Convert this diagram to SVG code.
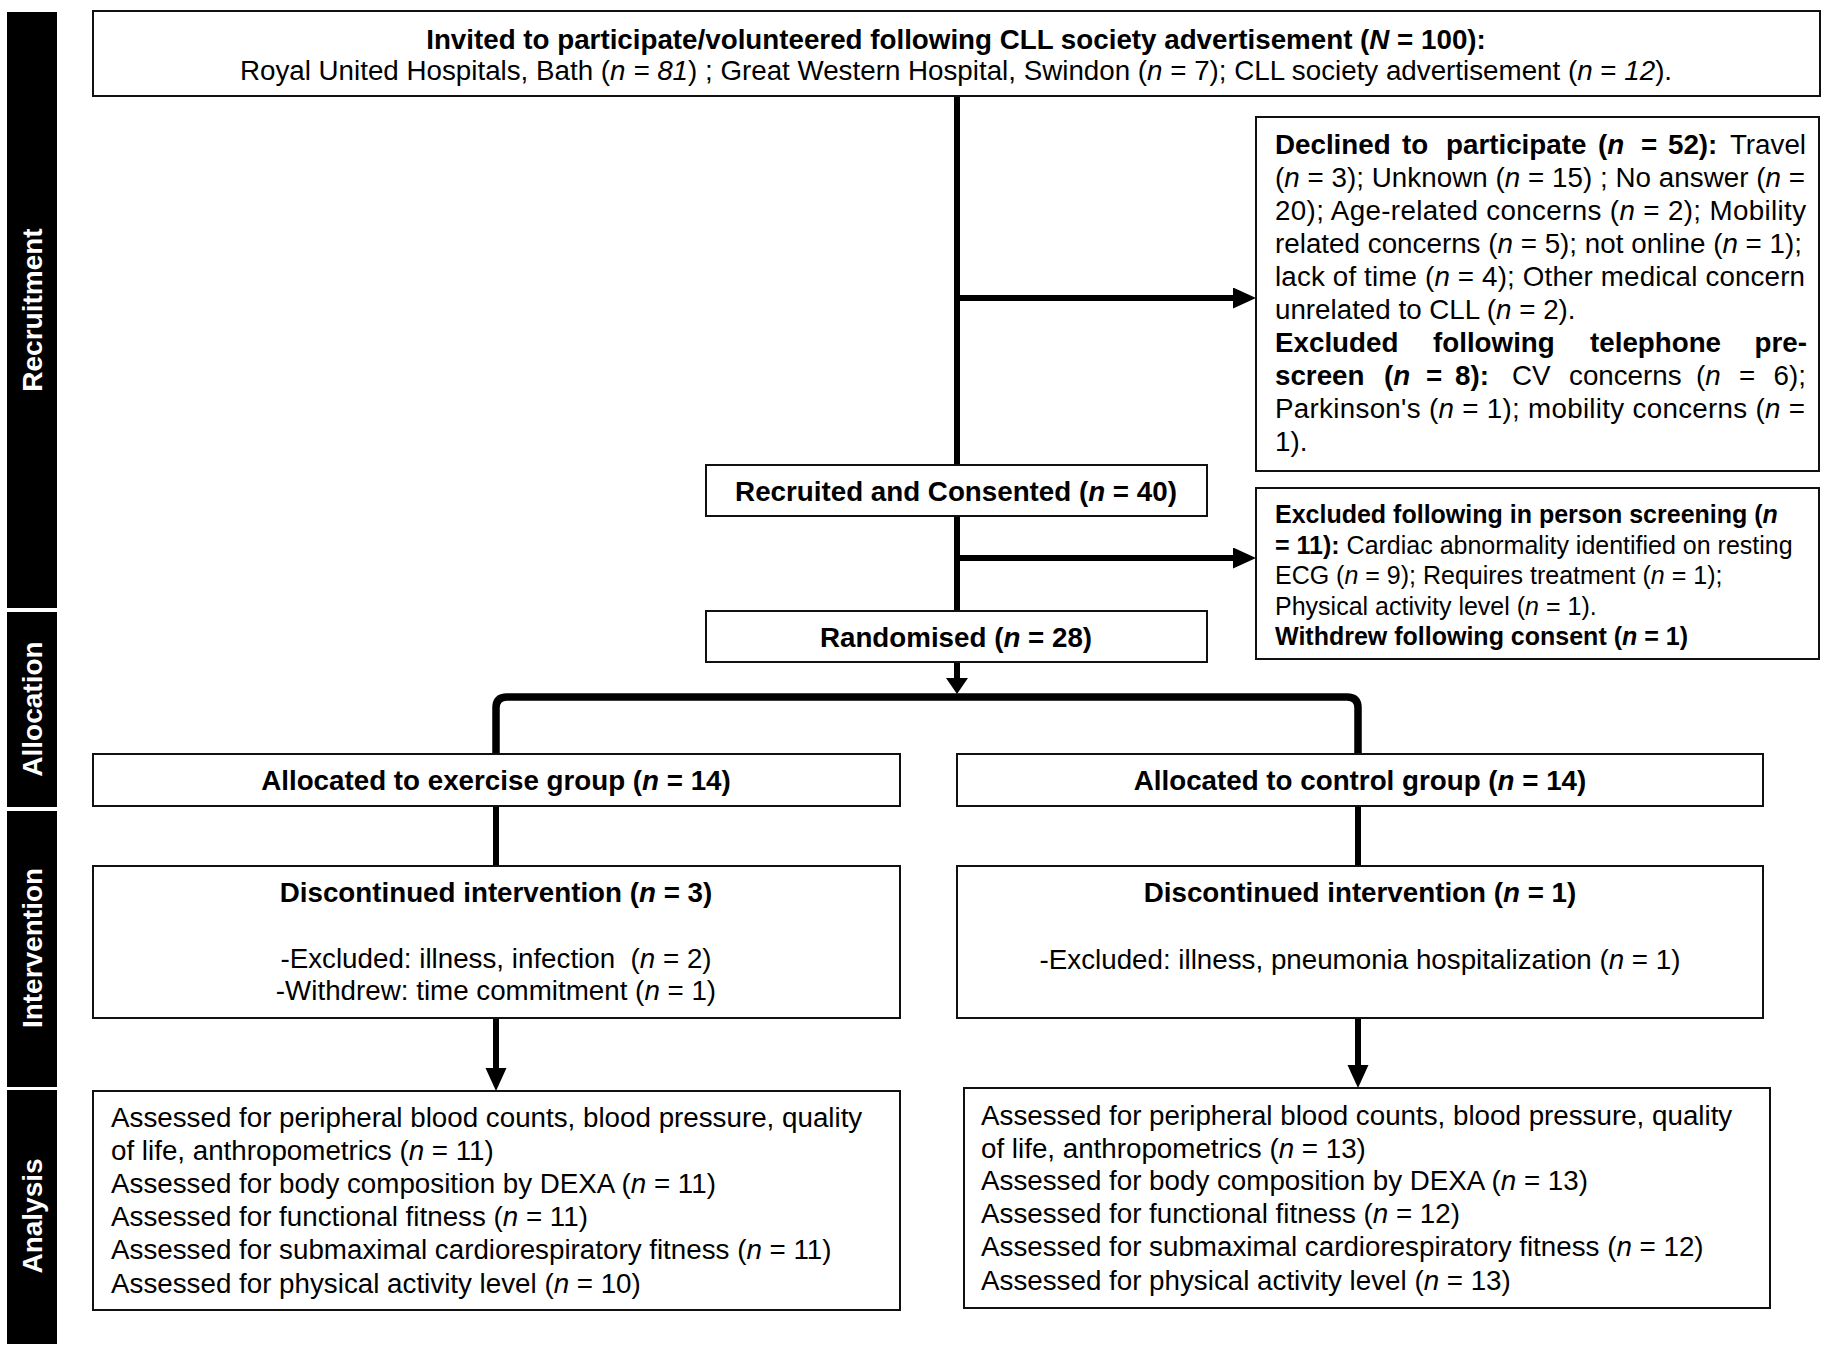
<svg xmlns="http://www.w3.org/2000/svg" width="1832" height="1351" viewBox="0 0 1832 1351">
<defs>
<style>
.box{fill:#fff;stroke:#111;stroke-width:2}
.t{font-family:"Liberation Sans",Arial,sans-serif;font-size:27.75px;fill:#000}
.s{font-family:"Liberation Sans",Arial,sans-serif;font-size:25px;fill:#000}
.b{font-weight:bold}
.i{font-style:italic}
.c{text-anchor:middle}
.side{font-family:"Liberation Sans",Arial,sans-serif;font-size:28px;font-weight:bold;fill:#fff;text-anchor:middle}
.bar{fill:#000}
.con{stroke:#000;stroke-width:6;fill:none}
.thick{stroke-width:7.5}
</style>
<marker id="ah" markerUnits="userSpaceOnUse" markerWidth="24" markerHeight="22" refX="2" refY="10.5" orient="auto"><path d="M0,0 L23,10.5 L0,21 z" fill="#000"/></marker>
<marker id="ah2" markerUnits="userSpaceOnUse" markerWidth="17" markerHeight="23" refX="2" refY="11" orient="auto"><path d="M0,0 L16,11 L0,22 z" fill="#000"/></marker>
</defs>
<rect width="1832" height="1351" fill="#fff"/>

<g id="sidebar">
<rect class="bar" x="7" y="12" width="50" height="596"/>
<rect class="bar" x="7" y="612" width="50" height="195"/>
<rect class="bar" x="7" y="811" width="50" height="276"/>
<rect class="bar" x="7" y="1090" width="50" height="254"/>
<text class="side" transform="translate(42,310) rotate(-90)">Recruitment</text>
<text class="side" transform="translate(42,709) rotate(-90)">Allocation</text>
<text class="side" transform="translate(42,948) rotate(-90)">Intervention</text>
<text class="side" transform="translate(42,1216) rotate(-90)">Analysis</text>
</g>

<g id="connectors">
<line class="con" x1="957" y1="96" x2="957" y2="465"/>
<line class="con" x1="957" y1="298" x2="1235" y2="298" marker-end="url(#ah)"/>
<line class="con" x1="957" y1="516" x2="957" y2="611"/>
<line class="con" x1="957" y1="558" x2="1235" y2="558" marker-end="url(#ah)"/>
<line class="con" x1="957" y1="662" x2="957" y2="680" marker-end="url(#ah2)"/>
<path class="con thick" d="M496,755 L496,708 Q496,697 507,697 L1347,697 Q1358,697 1358,708 L1358,755"/>
<line class="con" x1="496" y1="806" x2="496" y2="867"/>
<line class="con" x1="1358" y1="806" x2="1358" y2="867"/>
<line class="con" x1="496" y1="1018" x2="496" y2="1070" marker-end="url(#ah)"/>
<line class="con" x1="1358" y1="1018" x2="1358" y2="1067" marker-end="url(#ah)"/>
</g>

<g id="invited">
<rect class="box" x="93" y="11" width="1727" height="85"/>
<text class="t b c" x="956" y="49">Invited to participate/volunteered following CLL society advertisement (<tspan class="i">N</tspan> = 100):</text>
<text class="t c" x="956" y="80">Royal United Hospitals, Bath (<tspan class="i">n = 81</tspan>) ; Great Western Hospital, Swindon (<tspan class="i">n</tspan> = 7); CLL society advertisement (<tspan class="i">n</tspan> = <tspan class="i">12</tspan>).</text>
</g>

<g id="declined">
<rect class="box" x="1256" y="117" width="563" height="354"/>
<text class="t b" y="154"><tspan x="1275">Declined</tspan><tspan x="1402">to</tspan><tspan x="1446">participate</tspan><tspan x="1598">(<tspan class="i">n</tspan></tspan><tspan x="1641">=</tspan><tspan x="1668">52):</tspan></text>
<text class="t" x="1806" y="154" text-anchor="end">Travel</text>
<text class="t" x="1275" y="187" textLength="530" lengthAdjust="spacing">(<tspan class="i">n</tspan> = 3); Unknown (<tspan class="i">n</tspan> = 15) ; No answer (<tspan class="i">n</tspan> =</text>
<text class="t" x="1275" y="220" textLength="531" lengthAdjust="spacing">20); Age-related concerns (<tspan class="i">n</tspan> = 2); Mobility</text>
<text class="t" x="1275" y="253" textLength="527" lengthAdjust="spacing">related concerns (<tspan class="i">n</tspan> = 5); not online (<tspan class="i">n</tspan> = 1);</text>
<text class="t" x="1275" y="286" textLength="530" lengthAdjust="spacing">lack of time (<tspan class="i">n</tspan> = 4); Other medical concern</text>
<text class="t" x="1275" y="319">unrelated to CLL (<tspan class="i">n</tspan> = 2).</text>
<text class="t b" y="352"><tspan x="1275">Excluded</tspan><tspan x="1433">following</tspan><tspan x="1590">telephone</tspan></text>
<text class="t b" x="1807" y="352" text-anchor="end">pre-</text>
<text class="t" y="385"><tspan class="b" x="1275">screen</tspan><tspan class="b" x="1384">(<tspan class="i">n</tspan></tspan><tspan class="b" x="1426">=</tspan><tspan class="b" x="1455">8):</tspan><tspan x="1512">CV</tspan><tspan x="1569">concerns</tspan><tspan x="1696">(<tspan class="i">n</tspan></tspan><tspan x="1739">=</tspan></text>
<text class="t" x="1806" y="385" text-anchor="end">6);</text>
<text class="t" x="1275" y="418" textLength="530" lengthAdjust="spacing">Parkinson's (<tspan class="i">n</tspan> = 1); mobility concerns (<tspan class="i">n</tspan> =</text>
<text class="t" x="1275" y="451">1).</text>
</g>

<g id="recruited">
<rect class="box" x="706" y="465" width="501" height="51"/>
<text class="t b c" x="956" y="501">Recruited and Consented (<tspan class="i">n</tspan> = 40)</text>
</g>

<g id="screening">
<rect class="box" x="1256" y="488" width="563" height="171"/>
<text class="s b" x="1275" y="523">Excluded following in person screening (<tspan class="i">n</tspan></text>
<text class="s" x="1275" y="553.5"><tspan class="b">= 11):</tspan> Cardiac abnormality identified on resting</text>
<text class="s" x="1275" y="584">ECG (<tspan class="i">n</tspan> = 9); Requires treatment (<tspan class="i">n</tspan> = 1);</text>
<text class="s" x="1275" y="614.5">Physical activity level (<tspan class="i">n</tspan> = 1).</text>
<text class="s b" x="1275" y="645">Withdrew following consent (<tspan class="i">n</tspan> = 1)</text>
</g>

<g id="randomised">
<rect class="box" x="706" y="611" width="501" height="51"/>
<text class="t b c" x="956" y="647">Randomised (<tspan class="i">n</tspan> = 28)</text>
</g>

<g id="alloc-exercise">
<rect class="box" x="93" y="754" width="807" height="52"/>
<text class="t b c" x="496" y="790">Allocated to exercise group (<tspan class="i">n</tspan> = 14)</text>
</g>

<g id="alloc-control">
<rect class="box" x="957" y="754" width="806" height="52"/>
<text class="t b c" x="1360" y="790">Allocated to control group (<tspan class="i">n</tspan> = 14)</text>
</g>

<g id="disc-exercise">
<rect class="box" x="93" y="866" width="807" height="152"/>
<text class="t b c" x="496" y="902">Discontinued intervention (<tspan class="i">n</tspan> = 3)</text>
<text class="t c" x="496" y="968" xml:space="preserve">-Excluded: illness, infection  (<tspan class="i">n</tspan> = 2)</text>
<text class="t c" x="496" y="1000">-Withdrew: time commitment (<tspan class="i">n</tspan> = 1)</text>
</g>

<g id="disc-control">
<rect class="box" x="957" y="866" width="806" height="152"/>
<text class="t b c" x="1360" y="902">Discontinued intervention (<tspan class="i">n</tspan> = 1)</text>
<text class="t c" x="1360" y="969">-Excluded: illness, pneumonia hospitalization (<tspan class="i">n</tspan> = 1)</text>
</g>

<g id="analysis-exercise">
<rect class="box" x="93" y="1091" width="807" height="219"/>
<text class="t" x="111" y="1127">Assessed for peripheral blood counts, blood pressure, quality</text>
<text class="t" x="111" y="1160">of life, anthropometrics (<tspan class="i">n</tspan> = 11)</text>
<text class="t" x="111" y="1193">Assessed for body composition by DEXA (<tspan class="i">n</tspan> = 11)</text>
<text class="t" x="111" y="1226">Assessed for functional fitness (<tspan class="i">n</tspan> = 11)</text>
<text class="t" x="111" y="1259">Assessed for submaximal cardiorespiratory fitness (<tspan class="i">n</tspan> = 11)</text>
<text class="t" x="111" y="1293">Assessed for physical activity level (<tspan class="i">n</tspan> = 10)</text>
</g>

<g id="analysis-control">
<rect class="box" x="964" y="1088" width="806" height="220"/>
<text class="t" x="981" y="1125">Assessed for peripheral blood counts, blood pressure, quality</text>
<text class="t" x="981" y="1158">of life, anthropometrics (<tspan class="i">n</tspan> = 13)</text>
<text class="t" x="981" y="1190">Assessed for body composition by DEXA (<tspan class="i">n</tspan> = 13)</text>
<text class="t" x="981" y="1223">Assessed for functional fitness (<tspan class="i">n</tspan> = 12)</text>
<text class="t" x="981" y="1256">Assessed for submaximal cardiorespiratory fitness (<tspan class="i">n</tspan> = 12)</text>
<text class="t" x="981" y="1290">Assessed for physical activity level (<tspan class="i">n</tspan> = 13)</text>
</g>
</svg>
